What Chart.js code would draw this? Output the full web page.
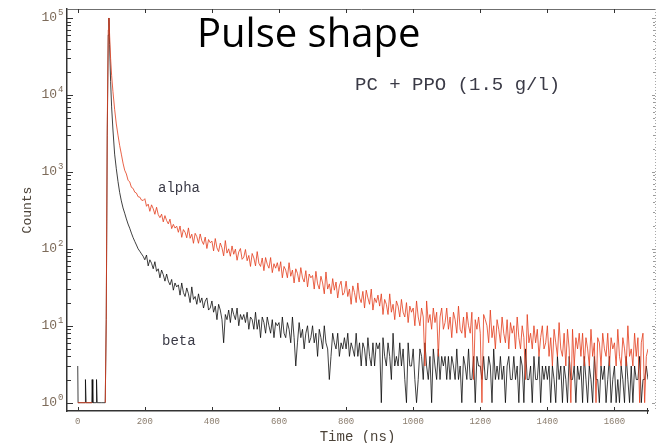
<!DOCTYPE html>
<html>
<head>
<meta charset="utf-8">
<script src="https://cdn.jsdelivr.net/npm/chart.js@4.4.0/dist/chart.umd.min.js"></script>
<style>
  html, body { margin: 0; padding: 0; background: #ffffff; }
  #wrap { width: 656px; height: 443px; }
</style>
</head>
<body>
<div id="wrap"><canvas id="pulseChart" width="656" height="443"></canvas></div>
<script>
// Zeiten bis zum Abfall (fein), danach Raster von 5 ns
const leadTime = [0, 1, 3, 22, 23, 25, 42, 43, 45, 55, 56, 58, 70, 82, 85, 88, 91, 93, 95, 98,
  101, 105, 110, 115, 120, 125, 130, 135, 140, 145, 150, 155, 160, 165, 170, 175, 180, 185, 190, 195];

const alphaLead = [1, 1, 1, 1, 1, 1, 1, 1, 1, null, null, null, null, 1, 12, 4000, 70000, 100000, 60000, 30000,
  18000, 11000, 6500, 4200, 3000, 2200, 1700, 1300, 1050, 940, 780, 740, 630, 610, 545, 530, 475, 470, 430, 425];

const betaLead = [3, 1, 1, 1, 2, 1, 1, 2, 1, 1, 2, 1, 1, 1, 12, 3000, 60000, 100000, 45000, 15000,
  7000, 3500, 1700, 1100, 750, 540, 420, 340, 290, 245, 210, 185, 160, 140, 125, 112, 100, 93, 86, 80];

// 200 ... 1700 ns, eine Zeile = 100 ns
const alphaTail = [
  448, 357, 381, 307, 373, 332, 281, 347, 278, 254, 282, 224, 270, 233, 211, 243, 183, 208, 186, 197,
  164, 198, 141, 178, 164, 139, 187, 137, 155, 118, 159, 144, 118, 156, 127, 114, 142, 101, 132, 120,
  126, 94, 136, 103, 92, 119, 103, 81, 128, 88, 100, 80, 109, 85, 99, 71, 91, 101, 73, 78,
  98, 70, 82, 59, 87, 76, 60, 92, 65, 59, 76, 52, 77, 63, 56, 77, 49, 64, 56, 66,
  51, 68, 42, 59, 53, 42, 66, 44, 53, 36, 55, 48, 37, 57, 42, 37, 52, 32, 47, 42,
  45, 30, 51, 35, 30, 44, 36, 26, 50, 30, 35, 26, 41, 29, 37, 23, 33, 38, 25, 27,
  38, 24, 30, 19, 33, 27, 20, 36, 23, 20, 28, 17, 29, 23, 19, 30, 16, 23, 20, 25,
  18, 26, 14, 22, 19, 14, 26, 15, 19, 12, 21, 18, 13, 22, 15, 13, 20, 11, 18, 15,
  17, 10, 21, 13, 10, 17, 13, 3, 21, 11, 14, 9, 17, 11, 15, 4, 13, 17, 9, 11,
  17, 9, 13, 7, 15, 12, 8, 18, 9, 8, 13, 7, 15, 10, 8, 15, 2, 12, 9, 13,
  8, 1, 14, 12, 10, 6, 16, 7, 10, 5, 12, 9, 6, 13, 8, 6, 12, 5, 11, 8,
  10, 5, 13, 7, 5, 10, 7, 2, 14, 6, 8, 5, 10, 6, 9, 4, 7, 10, 5, 6,
  10, 4, 7, 3, 9, 6, 4, 11, 5, 4, 8, 3, 9, 5, 1, 9, 3, 7, 5, 8,
  4, 8, 3, 7, 5, 3, 9, 4, 6, 1, 7, 6, 3, 8, 5, 4, 8, 3, 7, 5,
  6, 3, 9, 4, 3, 7, 5, 3, 10, 4, 5, 3, 8, 4, 7, 1, 6, 8, 1, 4,
  5];

const betaTail = [
  72, 83, 60, 72, 65, 55, 68, 51, 55, 42, 53, 46, 38, 47, 38, 34, 40, 29, 36, 32,
  34, 25, 36, 27, 24, 31, 26, 20, 32, 22, 24, 19, 26, 20, 23, 17, 21, 23, 16, 17,
  21, 15, 18, 12, 19, 16, 12, 6, 14, 12, 16, 11, 17, 14, 12, 17, 10, 14, 12, 14,
  11, 15, 9, 13, 12, 9, 15, 9, 12, 7, 13, 11, 8, 13, 10, 8, 12, 7, 11, 10,
  11, 7, 13, 8, 7, 11, 9, 6, 13, 7, 3, 6, 11, 7, 9, 5, 8, 10, 6, 7,
  10, 6, 8, 4, 9, 7, 5, 10, 6, 5, 2, 4, 8, 6, 5, 8, 4, 6, 5, 7,
  5, 8, 4, 6, 5, 4, 8, 4, 6, 3, 6, 5, 3, 7, 4, 3, 6, 3, 6, 5,
  6, 1, 7, 4, 3, 6, 4, 2, 8, 3, 4, 3, 6, 3, 5, 2, 1, 6, 3, 3,
  5, 2, 1, 2, 5, 4, 2, 6, 3, 2, 4, 1, 5, 3, 2, 5, 2, 4, 3, 4,
  2, 4, 2, 4, 3, 2, 5, 2, 3, 1, 4, 3, 2, 5, 2, 2, 4, 1, 4, 3,
  3, 2, 4, 2, 2, 4, 3, 1, 5, 2, 3, 2, 4, 2, 3, 1, 3, 4, 2, 2,
  4, 2, 3, 1, 4, 3, 1, 5, 2, 2, 3, 1, 4, 2, 2, 4, 1, 3, 2, 3,
  2, 3, 1, 3, 2, 1, 4, 2, 3, 1, 3, 2, 1, 4, 2, 2, 3, 1, 3, 2,
  3, 1, 4, 2, 1, 3, 2, 1, 4, 2, 2, 1, 3, 2, 3, 1, 2, 4, 1, 2,
  3, 1, 2, 1, 3, 2, 1, 4, 2, 1, 3, 1, 3, 2, 2, 4, 1, 2, 2, 3,
  2];

const tailTime = [];
for (let t = 200; t <= 1700; t += 5) tailTime.push(t);

const timeNs = leadTime.concat(tailTime);
const alphaCounts = alphaLead.concat(alphaTail);
const betaCounts = betaLead.concat(betaTail);

function toPoints(counts) {
  return timeNs.map((t, i) => ({x: t, y: counts[i]}));
}

const monoFont = '"Liberation Mono", "DejaVu Sans Mono", monospace';

// Rahmen, Ticks nach innen, Beschriftungen
const frameAndLabels = {
  id: 'frameAndLabels',
  afterDraw(chart) {
    const {ctx, chartArea: area} = chart;
    const x = chart.scales.x, y = chart.scales.y;
    ctx.save();

    // oberer Rand + rechter gepunkteter Rand
    ctx.strokeStyle = '#6f6f6f';
    ctx.lineWidth = 1;
    ctx.beginPath();
    ctx.moveTo(area.left, area.top + 0.5);
    ctx.lineTo(656, area.top + 0.5);
    ctx.stroke();
    ctx.setLineDash([1, 2]);
    ctx.strokeStyle = '#a8a8a8';
    ctx.beginPath();
    ctx.moveTo(655.5, area.top);
    ctx.lineTo(655.5, area.bottom);
    ctx.stroke();
    ctx.setLineDash([]);

    // x ticks oben und unten
    ctx.strokeStyle = '#333';
    ctx.lineWidth = 1;
    x.ticks.forEach(t => {
      const px = Math.round(x.getPixelForValue(t.value)) + 0.5;
      ctx.beginPath();
      ctx.moveTo(px, area.bottom);
      ctx.lineTo(px, area.bottom - 4);
      ctx.moveTo(px, area.top);
      ctx.lineTo(px, area.top + 4);
      ctx.stroke();
    });
    const endPx = Math.round(x.getPixelForValue(x.max)) - 0.5;
    ctx.beginPath();
    ctx.moveTo(endPx, area.bottom - 3);
    ctx.lineTo(endPx, area.bottom + 3);
    ctx.stroke();

    // y ticks links (dunkel) und rechts (grau)
    for (let e = 0; e <= 5; e++) {
      for (let m = 1; m <= 9; m++) {
        const v = m * Math.pow(10, e);
        if (v > y.max) continue;
        const py = Math.round(y.getPixelForValue(v)) + 0.5;
        const len = m === 1 ? 6 : 4;
        ctx.strokeStyle = '#333';
        ctx.beginPath();
        ctx.moveTo(area.left, py);
        ctx.lineTo(area.left + len, py);
        ctx.stroke();
        ctx.strokeStyle = '#9a9a9a';
        ctx.beginPath();
        ctx.moveTo(655, py);
        ctx.lineTo(655 - (m === 1 ? 3 : 2), py);
        ctx.stroke();
      }
    }

    // y Beschriftung 10^n
    ctx.fillStyle = '#7d6b5a';
    for (let e = 0; e <= 5; e++) {
      const py = y.getPixelForValue(Math.pow(10, e));
      ctx.font = '13px ' + monoFont;
      ctx.textAlign = 'right';
      ctx.textBaseline = 'middle';
      ctx.fillText('10', 57, py);
      ctx.font = '9px ' + monoFont;
      ctx.textAlign = 'left';
      ctx.fillText(String(e), 58, py - 5);
    }

    // Texte im Diagramm
    ctx.fillStyle = '#000000';
    ctx.font = '40px "Open Sans", Lato, sans-serif';
    ctx.textAlign = 'left';
    ctx.textBaseline = 'alphabetic';
    ctx.fillText('Pulse shape', 197, 47);

    ctx.fillStyle = '#3a3a46';
    ctx.font = '19px ' + monoFont;
    ctx.textBaseline = 'middle';
    ctx.fillText('PC + PPO (1.5 g/l)', 355, 85);

    ctx.font = '14px ' + monoFont;
    ctx.fillText('alpha', 158, 188);
    ctx.fillText('beta', 162, 341);

    ctx.restore();
  }
};

const ctx = document.getElementById('pulseChart').getContext('2d');
const pulseChart = new Chart(ctx, {
  type: 'line',
  data: {
    datasets: [{
      label: 'alpha',
      data: toPoints(alphaCounts),
      borderColor: 'rgba(228, 60, 28, 0.8)',
      borderWidth: 1,
      pointRadius: 0,
      tension: 0,
      spanGaps: false,
    }, {
      label: 'beta',
      data: toPoints(betaCounts),
      borderColor: 'rgba(0, 0, 0, 0.75)',
      borderWidth: 1,
      pointRadius: 0,
      tension: 0,
      spanGaps: false,
    }]
  },
  options: {
    responsive: false,
    animation: false,
    layout: { padding: { top: 9, right: 8, left: 0, bottom: 0 } },
    plugins: {
      legend: { display: false },
      tooltip: { enabled: false },
    },
    scales: {
      x: {
        type: 'linear',
        min: -32,
        max: 1700,
        grid: { display: false, drawTicks: false },
        border: { display: true, color: '#333', width: 1.5 },
        ticks: {
          stepSize: 200,
          includeBounds: false,
          autoSkip: false,
          maxRotation: 0,
          padding: 5,
          color: '#8b7d6e',
          font: { family: monoFont, size: 9 },
          callback: (v) => String(v),
        },
        title: {
          display: true,
          text: 'Time (ns)',
          color: '#4b4238',
          font: { family: monoFont, size: 14, lineHeight: 1 },
          padding: { top: 0, bottom: -1 },
        },
        afterFit(scale) { scale.height = 32; },
      },
      y: {
        type: 'logarithmic',
        min: 0.78,
        max: 130900,
        grid: { display: false, drawTicks: false },
        border: { display: true, color: '#333', width: 1.5 },
        ticks: { display: false },
        title: {
          display: true,
          text: 'Counts',
          color: '#4b4238',
          font: { family: monoFont, size: 13, lineHeight: 1 },
          padding: { top: 21, bottom: 0 },
        },
        afterFit(scale) { scale.width = 67; },
      },
    },
  },
  plugins: [frameAndLabels],
});
</script>
</body>
</html>
